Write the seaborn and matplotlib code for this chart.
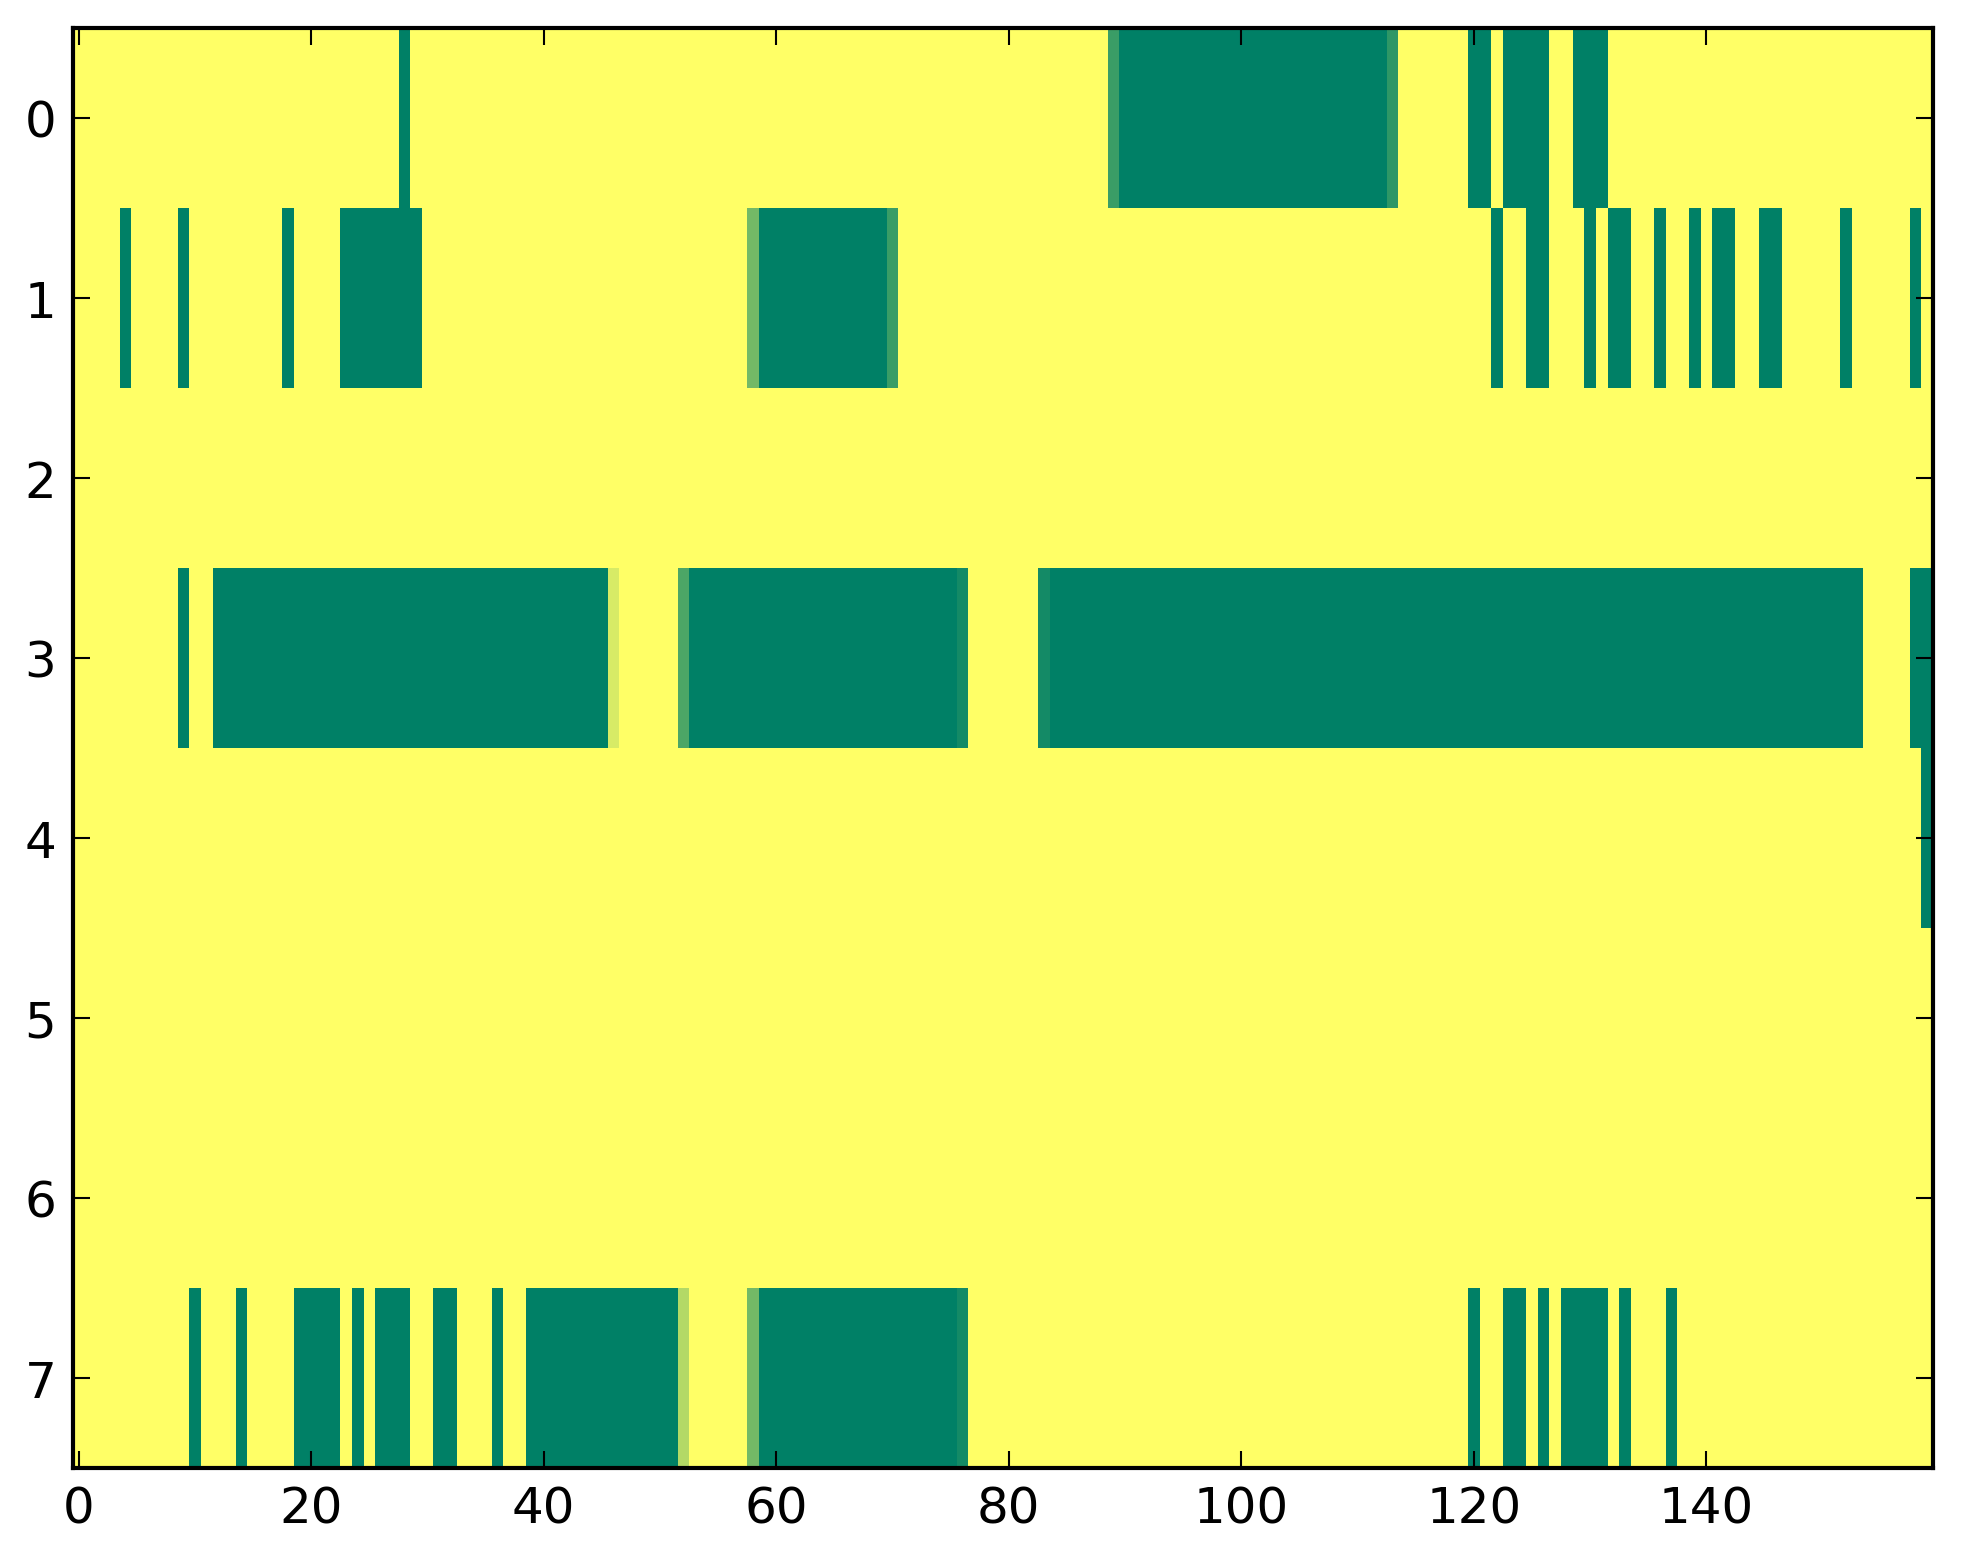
import numpy as np
import matplotlib
matplotlib.use("Agg")
import matplotlib.pyplot as plt
import seaborn as sns

n_rows = 8
n_cols = 160

# green runs (first, last column, inclusive), per row
row0_runs = [(28, 28), (90, 112), (120, 121), (123, 126), (129, 131)]
row1_runs = [(4, 4), (9, 9), (18, 18), (23, 29), (59, 69), (122, 122), (125, 126),
             (130, 130), (132, 133), (136, 136), (139, 139), (141, 142), (145, 146),
             (152, 152), (158, 158)]
row2_runs = []
row3_runs = [(9, 9), (12, 45), (53, 75), (84, 153), (158, 159)]
row4_runs = [(159, 159)]
row5_runs = []
row6_runs = []
row7_runs = [(10, 10), (14, 14), (19, 22), (24, 24), (26, 28), (31, 32), (36, 36),
             (39, 51), (59, 75), (120, 120), (123, 124), (126, 126), (128, 131),
             (133, 133), (137, 137)]

# cells with an in-between value (column: value)
row0_partial = {89: 0.77, 113: 0.82}
row1_partial = {58: 0.55, 70: 0.77}
row3_partial = {46: 0.16, 52: 0.70, 76: 0.92, 83: 0.92}
row7_partial = {52: 0.30, 58: 0.55, 76: 0.92}

x_ticks = [0, 20, 40, 60, 80, 100, 120, 140]
y_ticks = [0, 1, 2, 3, 4, 5, 6, 7]

all_runs = [row0_runs, row1_runs, row2_runs, row3_runs,
            row4_runs, row5_runs, row6_runs, row7_runs]
all_partial = {0: row0_partial, 1: row1_partial, 3: row3_partial, 7: row7_partial}

grid = np.zeros((n_rows, n_cols))
for r, runs in enumerate(all_runs):
    for a, b in runs:
        grid[r, a:b + 1] = 1.0
for r, cells in all_partial.items():
    for c, v in cells.items():
        grid[r, c] = v

sns.set_style("white")
plt.rcParams['font.family'] = ['DejaVu Sans']

fig = plt.figure(figsize=(1963 / 300, 1564 / 300), dpi=300)
ax = fig.add_axes([73 / 1963, 1 - 1469 / 1564, (1933 - 73) / 1963, (1469 - 29) / 1564])

sns.heatmap(grid, ax=ax, cmap="summer_r", vmin=0, vmax=1, cbar=False,
            xticklabels=False, yticklabels=False, linewidths=0, rasterized=True)

ax.set_axisbelow(False)
ax.set_xticks([t + 0.5 for t in x_ticks])
ax.set_xticklabels([str(t) for t in x_ticks], fontsize=12, rotation=0, color="black")
ax.set_yticks([t + 0.5 for t in y_ticks])
ax.set_yticklabels([str(t) for t in y_ticks], fontsize=12, rotation=0, color="black")

for s in ax.spines.values():
    s.set_visible(True)
    s.set_color("black")
    s.set_linewidth(1.0)
    s.set_zorder(5)

ax.tick_params(direction="in", length=4, width=0.5, color="black",
               top=True, right=True, bottom=True, left=True,
               labeltop=False, labelright=False, pad=4)

fig.savefig("out.png", dpi=300, facecolor="white")
